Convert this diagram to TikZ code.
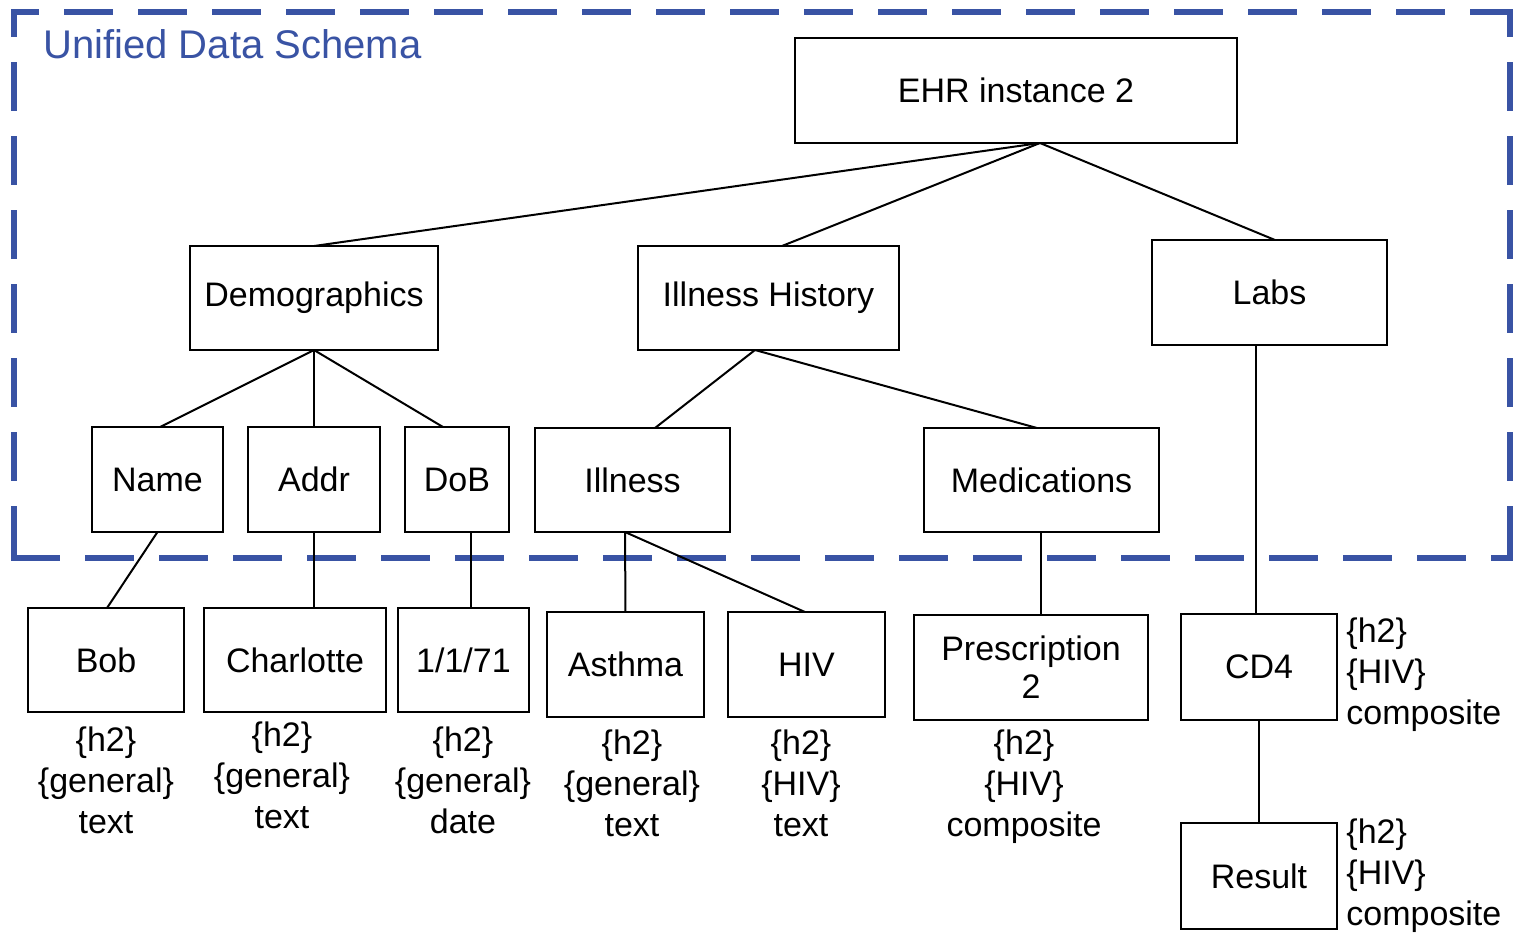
\documentclass[tikz,border=0pt]{standalone}
\usepackage{fontspec}
\setmainfont{Liberation Sans}
\usetikzlibrary{calc}
\definecolor{schemablue}{HTML}{3953A4}
\begin{document}
\begin{tikzpicture}[x=0.5pt,y=-0.5pt,
  boundary/.style={draw=schemablue, line width=2.6pt, line cap=rect,
    dash pattern=on 21.9pt off 15.1pt},
  box/.style={draw=black, line width=1.1pt, rectangle, inner sep=0pt, outer sep=0pt,
    font=\fontsize{17}{20}\selectfont, align=center},
  edge/.style={draw=black, line width=1pt},
  thinedge/.style={draw=black, line width=0.6pt},
  info/.style={font=\fontsize{17}{20.5}\selectfont, align=center, inner sep=0pt},
  sideinfo/.style={font=\fontsize{17}{20.5}\selectfont, align=left, inner sep=0pt, anchor=west}]
\useasboundingbox (0,0) rectangle (1517,934);

% schema boundary, each side dashed on its own
\coordinate (tl) at (14,12);
\coordinate (tr) at (1510,12);
\coordinate (bl) at (14,558);
\coordinate (br) at (1510,558);
\draw[boundary, dash phase=10.7pt] (tl) -- (tr);
\draw[boundary, dash phase=10.7pt] (tl) -- (bl);
\draw[boundary, dash phase=10.7pt] (tr) -- (br);
\draw[boundary] (bl) -- (br);
\node[anchor=west, text=schemablue, font=\fontsize{20}{24}\selectfont, inner sep=0pt]
  (title) at (43,44) {Unified Data Schema};

% tree nodes
\node[box, minimum width=221pt, minimum height=52.5pt] (ehr) at (1016,90.5) {EHR instance 2};
\node[box, minimum width=124pt, minimum height=52pt] (demo) at (314,298) {Demographics};
\node[box, minimum width=130.5pt, minimum height=52pt] (hist) at (768.5,298) {Illness History};
\node[box, minimum width=117.5pt, minimum height=52.5pt] (labs) at (1269.5,292.5) {Labs};

\node[box, minimum width=65.5pt, minimum height=52.5pt] (name) at (157.5,479.5) {Name};
\node[box, minimum width=66pt, minimum height=52.5pt] (addr) at (314,479.5) {Addr};
\node[box, minimum width=52pt, minimum height=52.5pt] (dob) at (457,479.5) {DoB};
\node[box, minimum width=97.5pt, minimum height=52pt] (ill) at (632.5,480) {Illness};
\node[box, minimum width=117.5pt, minimum height=52pt] (meds) at (1041.5,480) {Medications};

\node[box, minimum width=78pt, minimum height=52pt] (bob) at (106,660) {Bob};
\node[box, minimum width=91pt, minimum height=52pt] (charl) at (295,660) {Charlotte};
\node[box, minimum width=65.5pt, minimum height=52pt] (date) at (463.5,660) {1/1/71};
\node[box, minimum width=78.5pt, minimum height=52.5pt] (asth) at (625.5,664.5) {Asthma};
\node[box, minimum width=78.5pt, minimum height=52.5pt] (hiv) at (806.5,664.5) {HIV};
\node[box, minimum width=117pt, minimum height=52.5pt] (presc) at (1031,667.5) {Prescription\\[-1pt]2};
\node[box, minimum width=78pt, minimum height=53pt] (cd4) at (1259,667) {CD4};
\node[box, minimum width=78pt, minimum height=53pt] (result) at (1259,876) {Result};

% annotations
\node[info] (bobinfo) at (106,780) {\{h2\}\\\{general\}\\text};
\node[info] (charlinfo) at (282,775) {\{h2\}\\\{general\}\\text};
\node[info] (dateinfo) at (463,780) {\{h2\}\\\{general\}\\date};
\node[info] (asthinfo) at (632,783) {\{h2\}\\\{general\}\\text};
\node[info] (hivinfo) at (801,783) {\{h2\}\\\{HIV\}\\text};
\node[info] (prescinfo) at (1024,787) {\{h2\}\\\{HIV\}\\composite};
\node[sideinfo] (cd4info) at (1346,675) {\{h2\}\\\{HIV\}\\composite};
\node[sideinfo] (resultinfo) at (1346,876) {\{h2\}\\\{HIV\}\\composite};

% connectors
\draw[edge] ($(ehr.south)+(24,0)$) -- (demo.north);
\draw[edge] ($(ehr.south)+(24,0)$) -- ($(hist.north)+(13.5,0)$);
\draw[edge] ($(ehr.south)+(24,0)$) -- ($(labs.north)+(5.5,0)$);

\draw[edge] (demo.south) -- ($(name.north)+(2.5,0)$);
\draw[edge] (demo.south) -- (addr.north);
\draw[edge] (demo.south) -- ($(dob.north)+(-14,0)$);

\draw[edge] ($(hist.south)+(-13.5,0)$) -- ($(ill.north)+(22.5,0)$);
\draw[edge] ($(hist.south)+(-13.5,0)$) -- ($(meds.north)+(-4.5,0)$);

\draw[edge] ($(labs.south)+(-13.5,0)$) -- ($(cd4.north)+(-3,0)$);

\draw[edge] (name.south) -- ($(bob.north)+(1,0)$);
\draw[edge] (addr.south) -- ($(charl.north)+(19,0)$);
\draw[edge] ($(dob.south)+(14,0)$) -- ($(date.north)+(7.5,0)$);
\draw[edge] ($(ill.south)+(-7.5,0)$) -- (asth.north);
\draw[edge] ($(ill.south)+(-7.5,0)$) -- ($(hiv.north)+(-1.5,0)$);
\draw[edge] ($(meds.south)+(-0.5,0)$) -- ($(presc.north)+(10,0)$);
\draw[thinedge] (cd4.south) -- (result.north);
\end{tikzpicture}
\end{document}
